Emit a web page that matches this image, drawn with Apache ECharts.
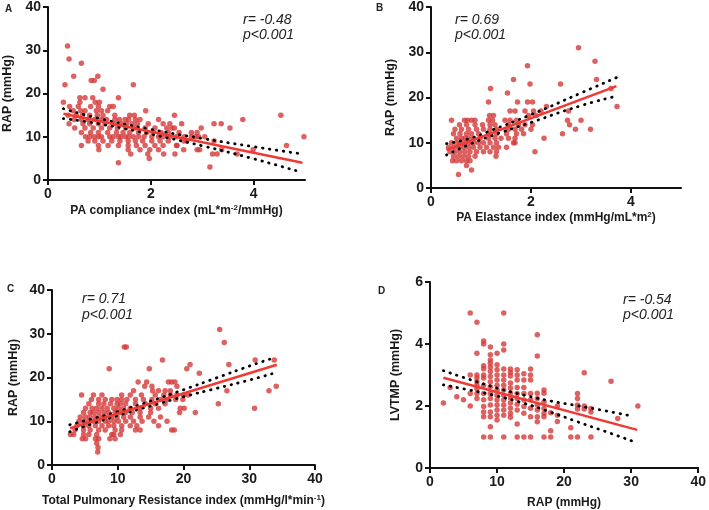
<!DOCTYPE html>
<html><head><meta charset="utf-8">
<script src="https://cdn.jsdelivr.net/npm/echarts@6/dist/echarts.min.js"></script>
<style>html,body{margin:0;padding:0;background:#fff}#c{width:709px;height:510px}</style>
</head><body><div id="c"></div>
<script>
// ---------- Panel A: PA compliance index vs RAP ----------
const aPoints = [
 [0.38,31],[0.41,28],[0.65,27],[0.5,24],[0.97,24],[0.33,22],[0.84,23],[0.9,23],[1.07,21],[1.66,22],[0.3,18],[1.37,19],
 [1.9,16],[2.46,15],[2.15,14],[1.37,4],[0.65,8],[0.99,7],[1.61,6],[1.94,6],[1.97,5],[2.25,6],[2.47,6],
 [2.41,12],[3.23,13],[3.37,13],[3.54,12],[3.79,14],[4.53,15],[4.98,10],[4.64,8],[3.99,7],[3.15,3],[3.2,6],[3.29,6],
 [3.38,7],[3.68,6],[3.23,9],[2.51,8],[2.64,7],[2.9,7],[2.95,7],[2.79,11],[2.9,11],[2.98,12],[2.79,10],[2.87,10],
 [2.93,10],[2.65,10],[2.64,9],[2.55,11],[2.6,13],[2.7,9],[3.05,10],
 [0.62,19],[0.72,19],[0.87,19],
 [0.62,18],[0.92,18],[1.0,18],
 [0.42,17],[0.59,17],[0.83,17],[0.98,17],[1.2,17],[1.27,17],
 [0.49,16],[0.64,16],[0.72,16],[0.94,16],[1.04,16],[1.16,16],
 [0.39,15],[0.55,15],[0.67,15],[0.81,15],[0.96,15],[1.07,15],[1.3,15],[1.59,15],[1.68,15],
 [0.51,14],[0.65,14],[0.78,14],[0.91,14],[1.04,14],[1.14,14],[1.3,14],[1.39,14],[1.5,14],[1.57,14],[1.7,14],[1.79,14],
 [0.41,13],[0.68,13],[0.81,13],[0.98,13],[1.11,13],[1.27,13],[1.43,13],[1.53,13],[1.64,13],[1.74,13],[1.95,13],[2.24,13],[2.37,13],
 [0.52,12],[0.72,12],[0.88,12],[1.04,12],[1.2,12],[1.35,12],[1.51,12],[1.69,12],[1.89,12],[2.08,12],[2.31,12],[2.46,12],
 [0.65,11],[0.83,11],[0.98,11],[1.16,11],[1.33,11],[1.46,11],[1.59,11],[1.76,11],[1.92,11],[2.05,11],[2.2,11],[2.34,11],
 [0.73,10],[0.81,10],[0.9,10],[0.98,10],[1.04,10],[1.2,10],[1.27,10],[1.37,10],[1.42,10],[1.51,10],[1.57,10],[1.66,10],
 [1.76,10],[1.87,10],[2.02,10],[2.15,10],[2.24,10],[2.37,10],[2.5,10],
 [0.78,9],[0.91,9],[1.07,9],[1.24,9],[1.4,9],[1.56,9],[1.7,9],[1.84,9],[2.02,9],[2.18,9],[2.34,9],
 [0.98,8],[1.17,8],[1.37,8],[1.56,8],[1.72,8],[1.89,8],[2.08,8],[2.24,8],[2.5,8],
 [1.56,7],[1.79,7],[1.98,7],[2.15,7]
];
const aFit = [[0.3,15.3],[4.95,4.0]];
const aUpper = [[0.3,16.5],[1,14.2],[2,11.7],[3,9.6],[4,7.7],[4.9,6.1]];
const aLower = [[0.3,14.2],[1,13.0],[2,10.6],[3,7.9],[4,4.9],[4.9,1.9]];

// ---------- Panel B: PA elastance index vs RAP ----------
const bPoints = [
 [2.95,31],[3.28,28],[3.31,24],[2.59,23],[1.98,23],[1.65,24],[1.93,27],[1.19,22],[1.53,21],[3.72,18],[3.6,22],
 [2.75,17],[2.31,18],[2.73,15],[2.77,14],[3.0,15],[2.89,13],[3.19,13],[2.63,12],[2.26,11],[2.08,8],[2.2,17],
 [2.1,16],[1.95,16],[2.03,14],[2.0,13],[1.4,11],[1.65,10],[1.3,7],
 [1.15,19],[1.73,19],[1.93,19],[2.03,19],
 [1.58,17],[1.68,17],[1.88,17],[2.05,17],
 [1.17,16],[1.25,16],
 [0.41,15],[0.67,15],[0.73,15],[0.81,15],[0.88,15],[1.15,15],[1.23,15],[1.48,15],[1.58,15],[1.71,15],
 [0.57,14],[0.71,14],[0.88,14],[1.03,14],[1.18,14],[1.28,14],[1.55,14],[1.75,14],[1.88,14],
 [0.48,13],[0.61,13],[0.75,13],[0.91,13],[1.05,13],[1.18,13],[1.31,13],[1.55,13],[1.68,13],[1.81,13],
 [0.45,12],[0.58,12],[0.71,12],[0.81,12],[0.95,12],[1.15,12],[1.31,12],[1.51,12],[1.71,12],[1.85,12],
 [0.51,11],[0.61,11],[0.68,11],[0.75,11],[0.85,11],[0.98,11],[1.15,11],[1.28,11],[1.55,11],[1.68,11],
 [0.41,10],[0.51,10],[0.59,10],[0.68,10],[0.77,10],[0.85,10],[0.95,10],[1.05,10],[1.18,10],[1.31,10],[1.68,10],
 [0.35,9],[0.45,9],[0.55,9],[0.65,9],[0.75,9],[0.85,9],[0.98,9],[1.11,9],[1.25,9],[1.35,9],[1.51,9],
 [0.38,8],[0.48,8],[0.58,8],[0.68,8],[0.78,8],[0.91,8],[1.05,8],[1.18,8],[1.31,8],
 [0.45,7],[0.55,7],[0.65,7],[0.75,7],[0.88,7],
 [0.43,6],[0.51,6],[0.61,6],[0.71,6],[0.78,6],
 [0.71,5],[0.81,4],[0.55,3]
];
const bFit = [[0.31,8.4],[3.71,22.5]];
const bUpper = [[0.31,9.8],[0.8,11.0],[1.2,12.7],[2,16.2],[3,21.0],[3.71,24.4]];
const bLower = [[0.31,7.3],[0.8,9.8],[1.2,11.5],[2,14.5],[3,18.2],[3.71,20.3]];

// ---------- Panel C: Total pulmonary resistance index vs RAP ----------
const cPoints = [
 [11.0,27],[11.3,27],[8.7,22],[14.8,22],[16.8,24],[25.5,31],[26.2,28],[21,23],[20.5,22],[22.4,21],[26.9,23],[30.9,24],
 [33.8,24],[34.1,18],[33,17],[30.8,13],[26.6,17],[25.3,14],[21.8,12],[18.2,19],[18.7,19],[19.9,15],[20,16],[19.5,13],
 [20.1,13],[19.4,12],[20.7,16],[18.2,8],[18.6,8],[17.5,10],[19,18],[17.7,19],[14.4,19],[13.1,19],
 [14.1,18],[15.2,18],
 [12.4,17],[15.3,17],[16.2,17],[17.2,17],[18.0,17],
 [4.5,16],[6.3,16],[7.6,16],[10.6,16],[11.9,16],[13.6,16],[15.7,16],[17.0,16],[18.0,16],[19.0,16],
 [6.0,15],[7.1,15],[8.1,15],[9.1,15],[9.9,15],[10.6,15],[11.4,15],[12.7,15],[13.9,15],[15.2,15],[16.5,15],[17.5,15],[18.8,15],
 [5.6,14],[7.1,14],[7.9,14],[8.9,14],[9.9,14],[10.4,14],[11.2,14],[12.7,14],[14.2,14],[15.7,14],[17.2,14],
 [5.1,13],[6.1,13],[6.8,13],[7.6,13],[8.4,13],[9.4,13],[10.1,13],[10.9,13],[11.9,13],[13.4,13],[15.0,13],[16.2,13],
 [4.8,12],[5.8,12],[6.3,12],[7.1,12],[7.9,12],[8.6,12],[9.6,12],[10.4,12],[11.2,12],[12.2,12],[13.4,12],[15.0,12],
 [4.3,11],[5.1,11],[5.8,11],[6.6,11],[7.4,11],[8.1,11],[9.1,11],[9.9,11],[10.9,11],[11.9,11],[13.4,11],[14.7,11],[16.5,11],
 [4.1,10],[4.8,10],[5.6,10],[6.3,10],[7.1,10],[8.1,10],[8.6,10],[9.4,10],[10.1,10],[11.2,10],[12.4,10],[13.7,10],[15.5,10],
 [3.8,9],[4.8,9],[5.6,9],[6.6,9],[7.6,9],[8.6,9],[9.4,9],[10.6,9],[11.9,9],[12.9,9],[16.2,9],
 [3.5,8],[4.8,8],[5.8,8],[7.1,8],[8.1,8],[9.6,8],[10.6,8],[12.7,8],[13.4,8],
 [2.8,7],[3.3,7],[4.8,7],[5.6,7],[6.8,7],[9.1,7],[9.4,7],[10.4,7],
 [4.6,6],[5.1,6],[6.6,6],[7.1,6],[8.8,6],[9.6,6],
 [6.8,5],[7.0,4],[6.95,3]
];
const cFit = [[2.74,8.4],[34.2,22.9]];
const cUpper = [[2.7,9.2],[6,10.5],[10,12.2],[15,14.6],[20,17.2],[25,19.9],[30,22.6],[33.5,24.4]];
const cLower = [[2.7,7.6],[6,9.4],[10,11.3],[15,13.5],[20,15.6],[25,17.5],[30,19.4],[33.8,21.0]];

// ---------- Panel D: RAP vs LVTMP ----------
const dPoints = [
 [2,2.1],[3,2.6],[4,2.3],[5,2.2],
 [6,5.0],[6,3.0],[6,2.4],[6,2.0],
 [7,4.7],[7,3.7],[7,3.0],[7,2.9],[7,2.78],[7,2.67],[7,2.56],[7,2.4],[7,2.24],
 [8,4.1],[8,4.0],[8,3.3],[8,3.2],[8,3.0],[8,2.9],[8,2.67],[8,2.4],[8,2.2],[8,1.98],[8,1.81],[8,1.65],[8,1.0],
 [9,3.9],[9,3.65],[9,3.48],[9,3.38],[9,3.25],[9,3.11],[9,2.95],[9,2.78],[9,2.62],[9,2.4],[9,2.24],[9,2.03],[9,1.81],[9,1.65],[9,1.33],[9,1.0],
 [10,3.7],[10,3.33],[10,3.17],[10,3.0],[10,2.84],[10,2.67],[10,2.52],[10,2.35],[10,2.19],[10,2.03],[10,1.87],[10,1.7],[10,1.55],
 [11,5.0],[11,4.0],[11,3.81],[11,3.19],[11,3.0],[11,2.84],[11,2.67],[11,2.52],[11,2.35],[11,2.19],[11,2.03],[11,1.87],[11,1.7],[11,1.0],
 [12,3.19],[12,3.08],[12,2.97],[12,2.74],[12,2.58],[12,2.42],[12,2.26],[12,2.1],[12,1.93],[12,1.77],[12,1.64],
 [13,3.17],[13,3.0],[13,2.84],[13,2.6],[13,2.4],[13,2.24],[13,2.06],[13,1.87],[13,1.42],[13,1.0],
 [14,3.04],[14,2.84],[14,2.6],[14,2.4],[14,2.19],[14,1.98],[14,1.77],[14,1.0],
 [15,3.19],[15,3.0],[15,2.84],[15,2.4],[15,2.19],[15,1.93],[15,1.65],[15,1.0],
 [16,4.3],[16,3.61],[16,2.41],[16,2.24],[16,2.03],[16,1.87],[16,1.65],[16,1.49],
 [17,2.52],[17,2.41],[17,2.13],[17,1.92],[17,1.76],[17,1.65],[17,1.0],
 [18,1.78],[18,1.2],[18,1.0],
 [19,2.0],[19,1.7],[19,1.5],
 [21,1.3],[21,1.0],
 [22,2.4],[22,2.24],[22,2.03],[22,1.9],[22,1.0],
 [23,3.07],[23,2.0],[23,1.9],
 [24,1.92],[24,1.81],[24,1.0],
 [27,2.8],[28,1.6],[31,2.0]
];
const dFit = [[2,2.91],[30.9,1.23]];
const dUpper = [[2,3.14],[6,2.85],[10,2.58],[14,2.35],[18,2.16],[22,2.01],[26,1.85],[30,1.68]];
const dLower = [[2,2.68],[6,2.51],[10,2.32],[14,2.09],[18,1.8],[22,1.49],[26,1.19],[30.8,0.82]];

// ---------- tick labels / texts ----------
const ticksA = [0,2,4];
const ticksB = [0,2,4];
const ticksCD = [0,10,20,30,40];
const stats = [['r= -0.48','p<0.001'],['r= 0.69','p<0.001'],['r= 0.71','p<0.001'],['r= -0.54','p<0.001']];
const panelLetters = ['A','B','C','D'];

const FONT = 'Liberation Sans, Arial, sans-serif';
const RED_DOT = '#d43a3a';
const RED_LINE = '#ee3b36';

function xAx(grid, min, max, interval, ticks, name, gap) {
  return {
    gridIndex: grid, type: 'value', min, max, interval,
    name, nameLocation: 'middle', nameGap: gap,
    nameTextStyle: { fontFamily: FONT, fontWeight: 'bold', fontSize: 12, color: '#1a1a1a',
      rich: { sup: { fontFamily: FONT, fontWeight: 'bold', fontSize: 8, color: '#1a1a1a', verticalAlign: 'top', padding:[0,0,5,0] } } },
    axisLine: { lineStyle: { color: '#111', width: 2 } },
    axisTick: { show: true, length: 5, lineStyle: { color: '#111', width: 2 }, customValues: ticks },
    axisLabel: { fontFamily: FONT, fontWeight: 'bold', fontSize: 14, color: '#1a1a1a', margin: 7, customValues: ticks },
    splitLine: { show: false }
  };
}
function yAx(grid, min, max, interval, name, gap) {
  return {
    gridIndex: grid, type: 'value', min, max, interval,
    name, nameLocation: 'middle', nameGap: gap,
    nameTextStyle: { fontFamily: FONT, fontWeight: 'bold', fontSize: 12.5, color: '#1a1a1a' },
    axisLine: { show: true, lineStyle: { color: '#111', width: 2 } },
    axisTick: { show: true, length: 5, lineStyle: { color: '#111', width: 2 } },
    axisLabel: { fontFamily: FONT, fontWeight: 'bold', fontSize: 14, color: '#1a1a1a', margin: 7 },
    splitLine: { show: false }
  };
}
function panelSeries(idx, pts, fit, up, lo) {
  return [
    { type: 'scatter', xAxisIndex: idx, yAxisIndex: idx, data: pts, symbolSize: 5.5,
      itemStyle: { color: RED_DOT }, silent: true, z: 2 },
    { type: 'line', xAxisIndex: idx, yAxisIndex: idx, data: up, smooth: true, symbol: 'none',
      lineStyle: { color: '#000', width: 2.8, type: [0.5, 6.5], cap: 'round' }, z: 3, silent: true },
    { type: 'line', xAxisIndex: idx, yAxisIndex: idx, data: lo, smooth: true, symbol: 'none',
      lineStyle: { color: '#000', width: 2.8, type: [0.5, 6.5], cap: 'round' }, z: 3, silent: true },
    { type: 'line', xAxisIndex: idx, yAxisIndex: idx, data: fit, symbol: 'none',
      lineStyle: { color: RED_LINE, width: 2.5 }, z: 4, silent: true }
  ];
}
function txt(x, y, s, font) {
  return { type: 'text', x, y, style: { text: s, font, fill: '#222', textVerticalAlign: 'middle' } };
}

const chart = echarts.init(document.getElementById('c'), null, { renderer: 'canvas' });
const statFont = 'italic 14px ' + FONT;
const letterFont = 'bold 10px ' + FONT;
chart.setOption({
  animation: false,
  backgroundColor: '#fff',
  grid: [
    { left: 48, top: 5, width: 257, height: 175 },
    { left: 431, top: 7, width: 250, height: 181 },
    { left: 52, top: 290, width: 263, height: 175 },
    { left: 430, top: 282, width: 273, height: 186 }
  ],
  xAxis: [
    xAx(0, 0, 5, 2, ticksA, 'PA compliance index (mL*m{sup|-2}/mmHg)', 24),
    xAx(1, 0, 5, 2, ticksB, 'PA Elastance index (mmHg/mL*m{sup|2})', 23),
    xAx(2, 0, 40, 10, ticksCD, 'Total Pulmonary Resistance index (mmHg/l*min{sup|-1})', 29),
    xAx(3, 0, 40, 10, ticksCD, 'RAP (mmHg)', 29)
  ],
  yAxis: [
    yAx(0, 0, 40, 10, 'RAP (mmHg)', 34),
    yAx(1, 0, 40, 10, 'RAP (mmHg)', 34),
    yAx(2, 0, 40, 10, 'RAP (mmHg)', 32),
    yAx(3, 0, 6, 2, 'LVTMP (mmHg)', 28)
  ],
  series: [
    ...panelSeries(0, aPoints, aFit, aUpper, aLower),
    ...panelSeries(1, bPoints, bFit, bUpper, bLower),
    ...panelSeries(2, cPoints, cFit, cUpper, cLower),
    ...panelSeries(3, dPoints, dFit, dUpper, dLower)
  ],
  graphic: [
    txt(5, 9, panelLetters[0], letterFont),
    txt(376, 8, panelLetters[1], letterFont),
    txt(7, 289, panelLetters[2], letterFont),
    txt(378, 291, panelLetters[3], letterFont),
    txt(243, 20.5, stats[0][0], statFont), txt(243, 35.5, stats[0][1], statFont),
    txt(455, 20, stats[1][0], statFont), txt(455, 35, stats[1][1], statFont),
    txt(82, 299, stats[2][0], statFont), txt(82, 315, stats[2][1], statFont),
    txt(623, 300, stats[3][0], statFont), txt(623, 315, stats[3][1], statFont)
  ]
});
</script>
</body></html>
